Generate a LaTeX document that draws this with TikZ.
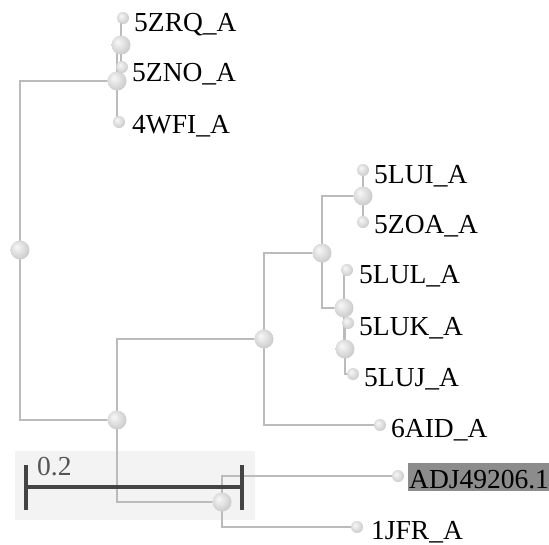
\documentclass[tikz,border=0pt]{standalone}
\usepackage{fontspec}
\setmainfont{Liberation Serif}
\definecolor{branch}{HTML}{BBBBBB}
\definecolor{barc}{HTML}{444444}
\definecolor{scalebg}{HTML}{F3F3F3}
\definecolor{hilite}{HTML}{8C8C8C}
\definecolor{scaletxt}{HTML}{555555}
\pgfdeclareradialshading{softball}{\pgfpoint{-9bp}{9bp}}{%
  color(0bp)=(gray!6); color(12bp)=(gray!20); color(25bp)=(gray!36);
  color(38bp)=(gray!58); color(50bp)=(gray!85)}
\begin{document}
\begin{tikzpicture}[x=1pt,y=-1pt,
  br/.style={draw=branch,line width=1.6pt},
  inball/.style={circle,inner sep=0pt,minimum size=19pt,shading=softball},
  leafball/.style={circle,inner sep=0pt,minimum size=12pt,shading=softball},
  lbl/.style={anchor=base west,inner sep=0pt,font=\fontsize{27.5}{31}\selectfont},
  sbar/.style={draw=barc,line width=3.5pt}]
\useasboundingbox (0,0) rectangle (549,544);
% scale bar background
\fill[scalebg] (15,451) rectangle (255,520);
% tree coordinates
\coordinate (R) at (20,250);
\coordinate (B) at (117,81);
\coordinate (A) at (121,45);
\coordinate (l5ZRQ) at (123,18);
\coordinate (l5ZNO) at (122,67);
\coordinate (l4WFI) at (119,122);
\coordinate (H) at (117,420);
\coordinate (G) at (264,339);
\coordinate (F) at (322,253);
\coordinate (E) at (363,196);
\coordinate (l5LUI) at (363,170);
\coordinate (l5ZOA) at (363,222);
\coordinate (C) at (344,308);
\coordinate (D) at (345,349);
\coordinate (l5LUL) at (347,270);
\coordinate (l5LUK) at (348,323);
\coordinate (l5LUJ) at (353,374);
\coordinate (l6AID) at (380,425);
\coordinate (I) at (222,502);
\coordinate (lADJ) at (398,476);
\coordinate (l1JFR) at (357,527);
% branches
\draw[br] (R) |- (B);
\draw[br] (R) |- (H);
\draw[br] (B) |- (A);
\draw[br] (B) |- (l4WFI);
\draw[br] (A) |- (l5ZRQ);
\draw[br] (A) |- (l5ZNO);
\draw[br] (H) |- (G);
\draw[br] (H) |- (I);
\draw[br] (G) |- (F);
\draw[br] (G) |- (l6AID);
\draw[br] (F) |- (E);
\draw[br] (F) |- (C);
\draw[br] (E) |- (l5LUI);
\draw[br] (E) |- (l5ZOA);
\draw[br] (C) |- (l5LUL);
\draw[br] (C) |- (D);
\draw[br] (D) |- (l5LUK);
\draw[br] (D) |- (l5LUJ);
\draw[br] (I) |- (lADJ);
\draw[br] (I) |- (l1JFR);
% scale bar
\coordinate (s1) at (26,487);
\coordinate (s2) at (242,487);
\draw[sbar] (s1) -- (s2);
\draw[sbar] ([yshift=-23pt]s1) -- ([yshift=22pt]s1);
\draw[sbar] ([yshift=-23pt]s2) -- ([yshift=22pt]s2);
\node[lbl,text=scaletxt] (scl) at (37,475) {0.2};
% balls
\foreach \n in {R,B,A,H,G,F,E,C,D,I} \node[inball] (b\n) at (\n) {};
\foreach \n in {l5ZRQ,l5ZNO,l4WFI,l5LUI,l5ZOA,l5LUL,l5LUK,l5LUJ,l6AID,lADJ,l1JFR} \node[leafball] (b\n) at (\n) {};
% labels
\node[lbl] (t5ZRQ) at (134,31) {5ZRQ\_A};
\node[lbl] (t5ZNO) at (132,81) {5ZNO\_A};
\node[lbl] (t4WFI) at (132,133) {4WFI\_A};
\node[lbl] (t5LUI) at (374,183) {5LUI\_A};
\node[lbl] (t5ZOA) at (374,233) {5ZOA\_A};
\node[lbl] (t5LUL) at (359,283) {5LUL\_A};
\node[lbl] (t5LUK) at (359,335) {5LUK\_A};
\node[lbl] (t5LUJ) at (364,386) {5LUJ\_A};
\node[lbl] (t6AID) at (391,437) {6AID\_A};
\fill[hilite] (408,463) rectangle (549,491);
\node[lbl] (tADJ) at (409,488) {ADJ49206.1};
\node[lbl] (t1JFR) at (371,539) {1JFR\_A};
\end{tikzpicture}
\end{document}
